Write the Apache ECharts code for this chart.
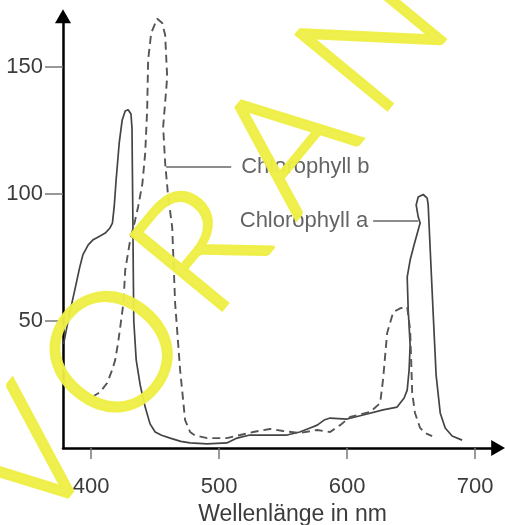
<!DOCTYPE html>
<html><head><meta charset="utf-8">
<script src="https://cdn.jsdelivr.net/npm/echarts@6/dist/echarts.min.js"></script>
<style>html,body{margin:0;padding:0;background:#fff}#c{width:505px;height:525px}</style>
</head><body><div id="c"></div>
<script>
// Wavelength (nm), absorption
const chlA = [[378.5,41],[381,47.6],[383.6,54],[388,64],[391,71],[393.5,76],[397.7,80],[401.6,82],[407,83.5],[411,84.6],[414.5,86.5],[416.6,88.5],[418,95],[419.5,105.5],[421.9,120],[424.2,129],[426.6,132.7],[428.9,133.2],[431.1,131.5],[431.9,126],[432.2,110],[432.6,90],[432.9,70],[433.3,50],[435.2,34.6],[438.3,24.8],[442.2,16.1],[446,9.5],[450,6.3],[455,5],[461.7,3.9],[470,2.6],[477.3,2],[490.6,1.6],[506,2],[514,3.9],[524,5.1],[536,5.1],[545,5.1],[553,5.1],[563,6.3],[571,7.9],[576.6,9],[582,11],[586.7,11.8],[600,11.4],[612.5,13],[628,15],[639,16.1],[644.5,19.7],[646.9,22.8],[648.4,30.7],[649.2,40.6],[647.7,54.3],[646.9,67.3],[649.2,74],[652.3,80],[655.5,85.8],[657,88.6],[655.5,91],[653.9,95.7],[655.5,98.8],[659.4,99.8],[662.5,98.4],[663.3,95.7],[664.8,79],[667.2,53],[669.5,28.7],[672.7,13.8],[676.6,7.9],[682,4.7],[689.8,3.1]];
const chlB = [[400.8,20.1],[407,22],[412.5,25.6],[416.4,30.7],[418.75,34.6],[421,41.3],[422.7,47.6],[425.2,57],[426.6,70],[430.5,81.9],[434.4,89.8],[436.7,95],[440,104],[442.2,116],[443.75,133],[444.5,152.8],[446.9,163.4],[451.6,169],[455.5,167.3],[457.8,162.6],[459.4,146],[456.25,126.4],[457.8,112.2],[460.2,98.8],[463.3,87],[465.6,57],[469.5,30.7],[473.4,11],[477.3,6.3],[481,5],[490.6,3.9],[506,3.9],[516.4,5.1],[526.6,6.3],[539.8,7.5],[550,6.7],[563,5.9],[576.6,7.1],[586.7,6.3],[594.5,9],[602.3,12.2],[618,14.2],[625.8,17.7],[628,26.8],[631.25,45.3],[636,53.5],[641.4,55],[646.9,55.5],[649.2,46.5],[650,34.6],[650.8,21.7],[653,13.8],[657,7.9],[661,5.9],[666.4,4.7]];
const leaderA = [[620.3,89.4],[655.5,89.4]];
const leaderB = [[458.6,110.6],[509.4,110.6]];
const labelA = 'Chlorophyll a';
const labelB = 'Chlorophyll b';
const xTicks = [400,500,600,700];
const yTicks = [50,100,150];
const xName = 'Wellenlänge in nm';
const watermark = 'VORANSICHT';

const FONT = "'Liberation Sans', Arial, Helvetica, sans-serif";
const TXT = '#3c3c3c';

// watermark letters along a rotated baseline
const ang = 50.5 * Math.PI / 180;
const ox = 75, oy = 498, step = 136, capHalf = 60;
const rx = Math.cos(ang), ry = -Math.sin(ang);
const ux = -Math.sin(ang), uy = -Math.cos(ang);
const wmElems = watermark.split('').map((ch, i) => {
  const t = i * step;
  return {
    type: 'text', z: 100, silent: true,
    x: ox + rx * t + ux * capHalf,
    y: oy + ry * t + uy * capHalf,
    rotation: ang,
    style: {
      text: ch, fill: '#eeee46', stroke: '#eeee46', lineWidth: 3, lineJoin: 'round',
      fontFamily: 'Lato', fontWeight: 300, fontSize: 167,
      textAlign: 'center', textVerticalAlign: 'middle', opacity: 0.95
    }
  };
});

const chart = echarts.init(document.getElementById('c'), null, {renderer: 'canvas'});
chart.setOption({
  animation: false,
  backgroundColor: '#fff',
  grid: {left: 63, right: 6.8, top: 16.2, bottom: 77, outerBoundsMode: 'none', containLabel: false},
  xAxis: {
    type: 'value', min: 378, max: 718,
    splitLine: {show: false},
    axisLine: {show: true, onZero: false, lineStyle: {color: '#000', width: 2.5}, symbol: ['none', 'triangle'], symbolSize: [16, 14]},
    axisTick: {show: true, customValues: xTicks, length: 11, lineStyle: {color: '#777', width: 1.5}},
    axisLabel: {show: true, customValues: xTicks, margin: 28, fontSize: 22, color: TXT, fontFamily: FONT},
    name: xName, nameLocation: 'middle', nameGap: 50,
    nameTextStyle: {fontSize: 23, color: TXT, fontFamily: FONT, padding: [0, 0, 0, 24]}
  },
  yAxis: {
    type: 'value', min: 0, max: 170,
    splitLine: {show: false},
    axisLine: {show: true, onZero: false, lineStyle: {color: '#000', width: 2.5}, symbol: ['none', 'triangle'], symbolSize: [16, 14]},
    axisTick: {show: true, customValues: yTicks, length: 18, lineStyle: {color: '#777', width: 1.5}},
    axisLabel: {show: true, customValues: yTicks, margin: 20, fontSize: 22, color: TXT, fontFamily: FONT}
  },
  series: [
    {type: 'line', data: chlA, showSymbol: false, symbol: 'none', lineStyle: {color: '#444', width: 1.7}, z: 3},
    {type: 'line', data: chlB, showSymbol: false, symbol: 'none', lineStyle: {color: '#555', width: 1.9, type: [8, 5]}, z: 3},
    {type: 'line', data: leaderA, showSymbol: false, symbol: 'none', lineStyle: {color: '#666', width: 1.5}, z: 2},
    {type: 'line', data: leaderB, showSymbol: false, symbol: 'none', lineStyle: {color: '#666', width: 1.5}, z: 2},
    {type: 'scatter', symbolSize: 0, z: 4, silent: true,
      data: [
        {value: leaderA[0], label: {show: true, position: 'left', distance: 5, formatter: labelA}},
        {value: leaderB[1], label: {show: true, position: 'right', distance: 10, formatter: labelB}}
      ],
      label: {fontSize: 22, color: TXT, fontFamily: FONT}
    }
  ],
  graphic: {elements: wmElems}
});
</script>
</body></html>
